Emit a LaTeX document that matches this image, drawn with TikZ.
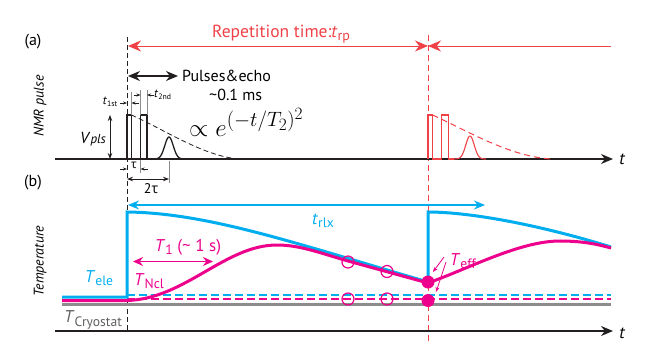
\documentclass[tikz,border=0pt]{standalone}
\usepackage{fontspec}
\usepackage{graphicx}
\setmainfont{PT Sans}
\newfontfamily\grk{Open Sans}
\usetikzlibrary{arrows.meta}
\definecolor{cblue}{RGB}{0,174,239}
\definecolor{cmag}{RGB}{236,0,140}
\definecolor{cred}{RGB}{239,65,70}
\definecolor{cgray}{RGB}{140,140,140}
\definecolor{cdgray}{RGB}{95,95,95}
\definecolor{cblk}{RGB}{35,31,32}
\newcommand\sub[1]{\raisebox{-0.4ex}{\scalebox{0.8}{#1}}}
\newcommand\tsub[1]{\raisebox{-0.3ex}{\scalebox{0.65}{#1}}}
\begin{document}
\begin{tikzpicture}[x=1pt,y=-1pt,
  lab/.style={inner sep=0pt, font=\fontsize{16}{18}\selectfont},
  slab/.style={inner sep=0pt, font=\fontsize{12}{14}\selectfont},
  axis/.style={cblk, line width=1.3, -{Stealth[length=12,width=10]}},
  tiny/.style={cblk, line width=0.6, -{Stealth[length=4,width=3]}},
  guide/.style={cgray, line width=0.5},
  thick3/.style={line width=3},
  dsh/.style={line width=2.2, dash pattern=on 8pt off 4pt}]
\useasboundingbox (0,0) rectangle (664,359);
% panel labels
\node[lab] (pa) at (33,42) {(a)};
\node[lab] (pb) at (33,183) {(b)};
\node[lab, rotate=90, font=\fontsize{14}{16}\selectfont\itshape] (nmr) at (40,106) {NMR pulse};
\node[lab, rotate=90, font=\fontsize{14}{16}\selectfont\itshape] (temp) at (40,261) {Temperature};
% vertical dashed markers
\draw[cblk, line width=0.7, dash pattern=on 5pt off 3pt] (127,37) -- (127,331);
\draw[cred, line width=0.8, dash pattern=on 6pt off 4pt] (428,35) -- (428,342);
% repetition arrow
\coordinate (r0) at (128,46); \coordinate (r1) at (428,46); \coordinate (r2) at (611,46);
\draw[cred, line width=1, {Stealth[length=13,width=11]}-{Stealth[length=13,width=11]}] (r0) -- (r1);
\draw[cred, line width=1, {Stealth[length=13,width=11]}-] (r1) -- (r2);
\node[lab, anchor=base west, text=cred, font=\fontsize{17.5}{19}\selectfont] (rep) at (212,37) {Repetition time:\textit{t}\sub{rp}};
% pulses & echo
\coordinate (p0) at (128,76); \coordinate (p1) at (178,76);
\draw[cblk, line width=1.2, {Stealth[length=12,width=10]}-{Stealth[length=12,width=10]}] (p0) -- (p1);
\node[lab, anchor=west] (pe) at (182,76) {Pulses\&echo};
\node[lab, anchor=west] (pt) at (209,95) {\textasciitilde 0.1 ms};
% axis a
\coordinate (a0) at (55,159); \coordinate (a1) at (613,159);
\draw[axis] (a0) -- (a1);
\node[lab, font=\fontsize{17}{19}\selectfont\itshape] (ta) at (622,159) {t};
% black pulses
\draw[cblk, line width=1.4] (127,159) -- (127,115) -- (131.5,115) -- (131.5,159);
\draw[cblk, line width=1.4] (140.5,159) -- (140.5,115) -- (147,115) -- (147,159);
\draw[cblk, line width=1.3] plot[domain=153:185, samples=50] (\x, {159-22*exp(-((\x-169)/6)^2)});
\draw[cblk, line width=0.8, dash pattern=on 5pt off 3pt] (131.5,115) .. controls (165,130) and (205,157) .. (240,159);
% red pulses
\draw[cred, line width=1.1] (428,159) -- (428,115) -- (432.5,115) -- (432.5,159) -- (441.5,159) -- (441.5,115) -- (448.5,115) -- (448.5,159) -- (454,159);
\draw[cred, line width=1.1] plot[domain=454:486, samples=50] (\x, {159-23*exp(-((\x-470)/6)^2)});
\draw[cred, line width=1, dash pattern=on 6pt off 4pt] (432.5,115) .. controls (466,130) and (510,157) .. (552,159);
% guides
\draw[guide] (131.5,92) -- (131.5,115);
\draw[guide] (140.5,90) -- (140.5,115);
\draw[guide] (147,90) -- (147,115);
\draw[guide] (140.5,160) -- (140.5,173);
\draw[guide] (169,161) -- (169,183);
% Vpls
\coordinate (v0) at (110,115); \coordinate (v1) at (110,159);
\draw[cblk, line width=0.8, {Stealth[length=6,width=4.5]}-{Stealth[length=6,width=4.5]}] (v0) -- (v1);
\node[lab] (vp) at (93,139) {\textit{V}{\fontsize{13}{13}\selectfont\textit{pls}}};
% t1st / t2nd
\draw[tiny] (120,103) -- (127,103);
\draw[tiny] (139,103) -- (131.5,103);
\node[slab] (t1) at (110,102) {\textit{t}\tsub{1st}};
\draw[tiny] (134,95) -- (140.5,95);
\draw[tiny] (154,95) -- (147,95);
\node[slab, anchor=west] (t2) at (154,95) {\textit{t}\tsub{2nd}};
% tau
\draw[tiny] (120,169) -- (127,169);
\draw[tiny] (148,169) -- (140.5,169);
\node[slab] (tau) at (134,165) {{\grk τ}};
\coordinate (u0) at (127,179); \coordinate (u1) at (169,179);
\draw[cblk, line width=0.8, {Stealth[length=6,width=4.5]}-{Stealth[length=6,width=4.5]}] (u0) -- (u1);
\node[lab, font=\fontsize{14}{16}\selectfont] (tau2) at (151,189) {2{\grk τ}};
% formula
\node[inner sep=0pt, anchor=base west, font=\fontsize{24.88}{26}\selectfont] (form) at (189,136) {$\propto e^{(-t/T_2)^2}$};
% panel b
\coordinate (b0) at (128,205); \coordinate (b1) at (485,205);
\draw[cblue, line width=1.2, {Stealth[length=11,width=9]}-{Stealth[length=11,width=9]}] (b0) -- (b1);
\node[lab, text=cblue, font=\fontsize{17}{19}\selectfont] (trlx) at (323,221) {\textit{t}\sub{rlx}};
\draw[cgray, thick3] (62,304) -- (611,304);
\draw[cmag, dsh] (127,299) -- (611,299);
\draw[cblue, dsh] (127,295) -- (611,295);
\draw[cblue, thick3, line join=miter] (62,297) -- (127,297) -- (127,212) .. controls (210,213) and (300,245) .. (428,282) -- (428,212) .. controls (470,212) and (540,225) .. (611,247);
\draw[cmag, thick3] (62,300.5) -- (127,300.5) .. controls (185,299) and (225,245) .. (277,245) .. controls (300,245) and (320,253) .. (348,261) -- (428,283) .. controls (470,268) and (520,241) .. (560,241) .. controls (585,241) and (600,245) .. (611,248);
\draw[cmag, line width=1.2] (348,262) circle (6pt) (387,271.5) circle (6pt) (348,299) circle (6pt) (387,299) circle (6pt);
\fill[cmag] (428,282) circle (6.5pt) (428,300.5) circle (6.5pt);
\node[lab, text=cmag, font=\fontsize{17}{19}\selectfont] (teff) at (463,261) {\textit{T}\sub{eff}};
\draw[cmag, line width=0.8, -{Stealth[length=5,width=4]}] (444,257) -- (433,272);
\draw[cmag, line width=0.8, -{Stealth[length=5,width=4]}] (446,262) -- (436,292);
\coordinate (m0) at (133,261.5); \coordinate (m1) at (213,261.5);
\draw[cmag, line width=1.5, {Stealth[length=10,width=9]}-{Stealth[length=10,width=9]}] (m0) -- (m1);
\node[lab, text=cmag, font=\fontsize{17}{19}\selectfont] (t1s) at (188,247) {\textit{T}\sub{1} (\textasciitilde\ 1 s)};
\node[lab, text=cblue, font=\fontsize{17}{19}\selectfont] (tele) at (99,278) {\textit{T}\sub{ele}};
\node[lab, text=cmag, font=\fontsize{17}{19}\selectfont] (tncl) at (149,281) {\textit{T}\sub{Ncl}};
\node[lab, text=cdgray, font=\fontsize{17}{19}\selectfont] (tcry) at (93,320) {\textit{T}\sub{Cryostat}};
% axis b
\coordinate (c0) at (55,331); \coordinate (c1) at (613,331);
\draw[axis] (c0) -- (c1);
\node[lab, font=\fontsize{17}{19}\selectfont\itshape] (tb) at (622,333) {t};
\end{tikzpicture}
\end{document}
